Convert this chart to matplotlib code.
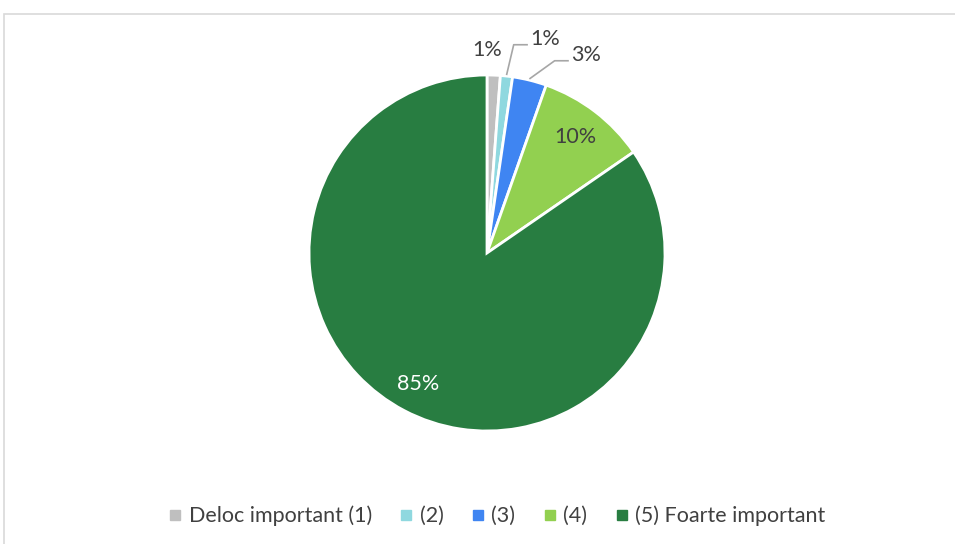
import numpy as np
import matplotlib.pyplot as plt
from matplotlib.lines import Line2D
from matplotlib.patches import Rectangle

plt.rcParams['font.family'] = ['Lato', 'DejaVu Sans']

labels = ['Deloc important (1)', '(2)', '(3)', '(4)', '(5) Foarte important']
values = [1.2, 1.1, 3.1, 10.0, 84.6]
pct_text = ['1%', '1%', '3%', '10%', '85%']
colors = ['#BFBFBF', '#8FD8DF', '#3F85F2', '#92D050', '#287D41']
txt_col = '#404040'
fs = 15.5

fig = plt.figure(figsize=(9.55, 5.44), dpi=100)
W, H = 955, 544

# chart area frame
fig.patches.append(Rectangle((4 / W, -0.1), 1.1, (H - 14) / H + 0.1,
                             transform=fig.transFigure, fill=False,
                             edgecolor='#D9D9D9', lw=1.2))

R = 178
cx, cy = 487, 253
ax = fig.add_axes([(cx - 1.5 * R) / W, (H - cy - 1.5 * R) / H, 3 * R / W, 3 * R / H])

wedges, _ = ax.pie(values, colors=colors, startangle=90, counterclock=False,
                   radius=1, wedgeprops=dict(edgecolor='white', linewidth=2))
ax.set_xlim(-1.5, 1.5)
ax.set_ylim(-1.5, 1.5)
ax.set_aspect('equal')
ax.axis('off')

def mid(w):
    return np.deg2rad((w.theta1 + w.theta2) / 2)

# big slices: label inside
for i, r in [(3, 0.82), (4, 0.83)]:
    a = mid(wedges[i])
    ax.text(r * np.cos(a), r * np.sin(a), pct_text[i], ha='center', va='center',
            fontsize=fs, color=txt_col if i == 3 else 'white')

# gray slice: label just above its start edge
a = np.deg2rad(wedges[0].theta2)
ax.text(1.14 * np.cos(a), 1.14 * np.sin(a), pct_text[0], ha='center', va='center',
        fontsize=fs, color=txt_col)

# leader lines for (2) and (3)
lead = {1: [(0.15, 1.17), (0.225, 1.17)], 2: [(0.38, 1.08), (0.455, 1.08)]}
for i, pts in lead.items():
    a = mid(wedges[i])
    x0, y0 = 1.01 * np.cos(a), 1.01 * np.sin(a)
    xs = [x0] + [p[0] for p in pts]
    ys = [y0] + [p[1] for p in pts]
    ax.plot(xs, ys, color='#A6A6A6', lw=1.2, clip_on=False)
    ax.text(pts[-1][0] + 0.02, pts[-1][1] + 0.03, pct_text[i], ha='left', va='center',
            fontsize=fs, color=txt_col)

handles = [Line2D([], [], marker='s', linestyle='none', markersize=6.5,
                  markerfacecolor=c, markeredgecolor=c) for c in colors]
fig.legend(handles, labels, loc='center', bbox_to_anchor=(498 / W, 28 / H), ncol=5,
           frameon=False, fontsize=fs, handlelength=0.42, handletextpad=0.4,
           columnspacing=1.4, labelcolor=txt_col)

fig.savefig('out.png', dpi=100)
